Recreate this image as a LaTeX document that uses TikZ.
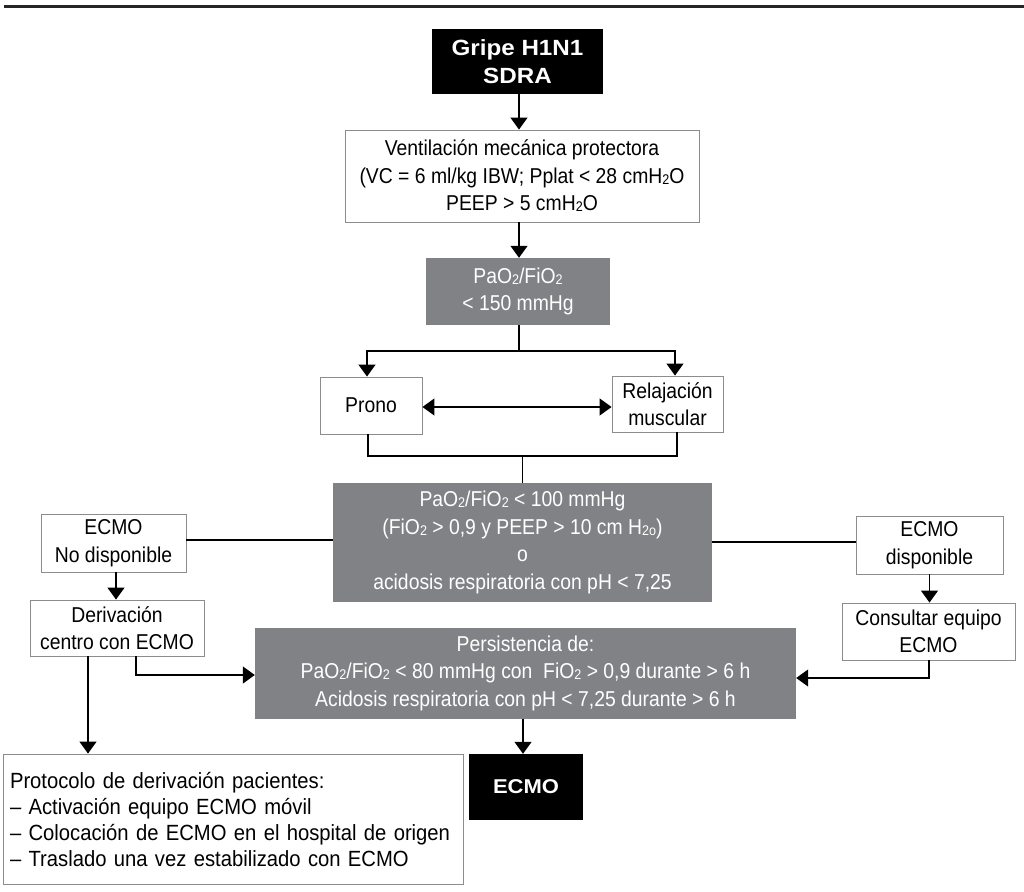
\documentclass[tikz,border=0pt]{standalone}
\usepackage{fontspec}
\setmainfont{Liberation Sans}[FakeStretch=0.9]
\newfontfamily\listface{Liberation Sans}[FakeStretch=0.92]
\newfontfamily\heavyface{Liberation Sans Bold}[FakeStretch=1.1]
\usetikzlibrary{arrows.meta}
\definecolor{boxgray}{HTML}{818285}
\definecolor{framegray}{HTML}{8C8C8C}
\newcommand\ix[1]{{\fontsize{14}{14}\selectfont\raisebox{-1pt}{#1}}}
\tikzset{
  base/.style={inner sep=0pt, align=center, font=\fontsize{21.5}{27.5}\selectfont},
  whitebox/.style={base, draw=framegray, line width=0.9pt, fill=white, text=black},
  graybox/.style={base, fill=boxgray, text=white},
  blackbox/.style={base, fill=black, text=white, font=\fontsize{22}{28}\heavyface},
  link/.style={draw=black, line width=1.3pt},
  arr/.style={link, -{Triangle[width=17pt,length=12pt]}},
  darr/.style={link, {Triangle[width=17pt,length=12pt]}-{Triangle[width=17pt,length=12pt]}},
}
\begin{document}
\begin{tikzpicture}[x=1pt,y=-1pt]
\useasboundingbox (0,0) rectangle (1024,891);
% heading rule
\draw[line width=3.5pt, black!85] (4,6.5) -- (1024,6.5);

% boxes
\node[blackbox, minimum width=171pt, minimum height=65pt] (gripe) at (517.5,61.5) {Gripe H1N1\\SDRA};
\node[whitebox, minimum width=354pt, minimum height=92pt] (vent) at (522,176)
  {Ventilación mecánica protectora\\(VC = 6 ml/kg IBW; Pplat < 28 cmH\ix{2}O\\PEEP > 5 cmH\ix{2}O};
\node[graybox, minimum width=184pt, minimum height=67pt] (pf150) at (518,291.5) {PaO\ix{2}/FiO\ix{2}\\< 150 mmHg};
\node[whitebox, minimum width=102pt, minimum height=57pt] (prono) at (371,405.5) {Prono};
\node[whitebox, minimum width=111pt, minimum height=56pt] (relaj) at (667.5,404) {Relajación\\muscular};
\node[graybox, minimum width=379pt, minimum height=119pt] (pf100) at (522.5,542.5)
  {PaO\ix{2}/FiO\ix{2} < 100 mmHg\\(FiO\ix{2} > 0,9 y PEEP > 10 cm H\ix{2o})\\o\\acidosis respiratoria con pH < 7,25};
\node[whitebox, minimum width=145pt, minimum height=58pt] (nodisp) at (113.5,543) {ECMO\\No disponible};
\node[whitebox, minimum width=147pt, minimum height=58pt] (disp) at (929.5,545) {ECMO\\disponible};
\node[whitebox, minimum width=174pt, minimum height=56pt] (deriv) at (117,628) {Derivación\\centro con ECMO};
\node[whitebox, minimum width=173pt, minimum height=57pt] (consult) at (928.5,631.5) {Consultar equipo\\ECMO};
\node[graybox, minimum width=541pt, minimum height=91pt] (persist) at (525.5,673)
  {Persistencia de:\\PaO\ix{2}/FiO\ix{2} < 80 mmHg con\ \ FiO\ix{2} > 0,9 durante > 6 h\\Acidosis respiratoria con pH < 7,25 durante > 6 h};
\node[blackbox, minimum width=114pt, minimum height=66pt, font=\fontsize{20}{26}\heavyface] (ecmo) at (526,787) {ECMO};
\node[whitebox, minimum width=460pt, minimum height=130pt, align=left, text width=446pt, inner xsep=7pt,
      font=\fontsize{22}{26}\listface] (proto) at (233,819)
  {Protocolo de derivación pacientes:\\– Activación equipo ECMO móvil\\– Colocación de ECMO en el hospital de origen\\– Traslado una vez estabilizado con ECMO};

% connectors
\draw[arr] ([xshift=1.5pt]gripe.south) -- ([xshift=1.5pt]gripe.south |- vent.north);
\draw[arr] ([xshift=1pt]pf150.north |- vent.south) -- ([xshift=1pt]pf150.north);
\coordinate (split) at ([xshift=1pt]pf150.south |- 0,351);
\draw[link] ([xshift=1pt]pf150.south) -- (split);
\draw[arr] (split) -| ([xshift=-4pt]prono.north);
\draw[arr] (split) -| ([xshift=7.5pt]relaj.north);
\draw[darr] (prono.east |- 0,407) -- (relaj.west |- 0,407);
\coordinate (join) at (pf100.north |- 0,456);
\draw[link] ([xshift=-3pt]prono.south) |- (join) -| ([xshift=9.5pt]relaj.south);
\draw[link] (join) -- (pf100.north);
\draw[link] (nodisp.east |- 0,540) -- (pf100.west |- 0,540);
\draw[link] (pf100.east |- 0,542) -- (disp.west |- 0,542);
\draw[arr] ([xshift=2.5pt]nodisp.south) -- ([xshift=2.5pt]nodisp.south |- deriv.north);
\draw[arr] (disp.south) -- (disp.south |- consult.north);
\draw[arr] ([xshift=-29pt]deriv.south) -- ([xshift=-29pt]deriv.south |- proto.north);
\draw[arr] ([xshift=19pt]deriv.south) |- ([yshift=-2pt]persist.west);
\draw[arr] ([xshift=0.5pt]consult.south) |- ([yshift=-5pt]persist.east);
\draw[arr] ([xshift=-2.5pt]persist.south) -- ([xshift=-2.5pt]persist.south |- ecmo.north);
\end{tikzpicture}
\end{document}
